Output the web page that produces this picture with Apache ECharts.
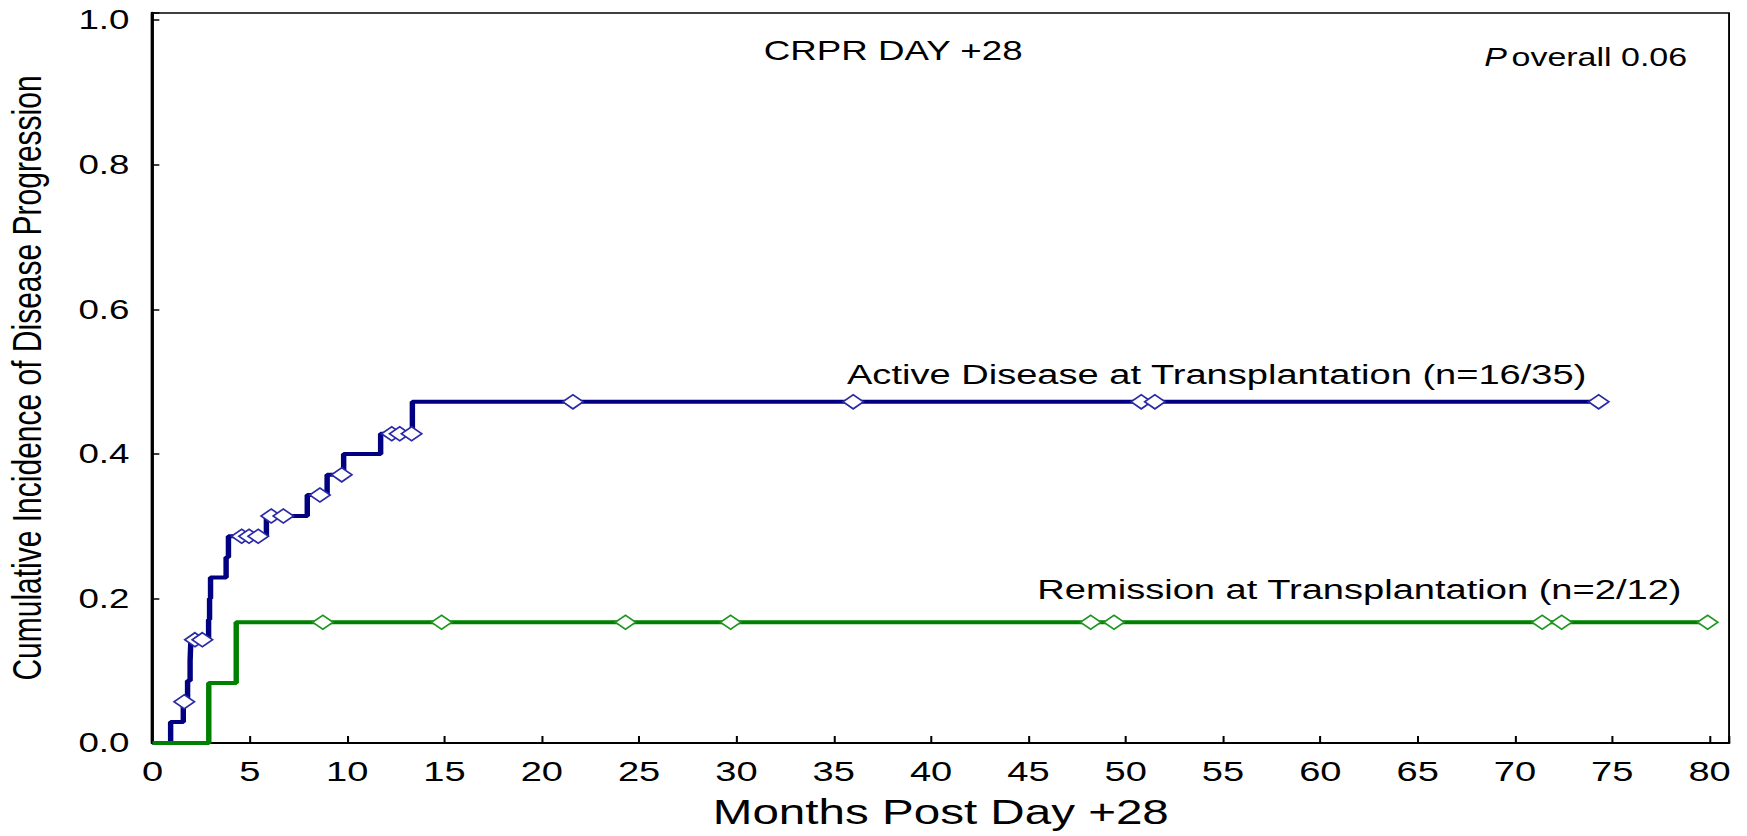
<!DOCTYPE html>
<html>
<head>
<meta charset="utf-8">
<script src="https://cdn.jsdelivr.net/npm/echarts@6/dist/echarts.min.js"></script>
<style>
html, body { margin: 0; padding: 0; background: #fff; overflow: hidden; }
#wrap { width: 1747px; height: 836px; overflow: hidden; background: #fff; }
#chart { width: 1285px; height: 836px; transform: scaleX(1.35953); transform-origin: 0 0; }
</style>
</head>
<body>
<div id="wrap"><div id="chart"></div></div>
<script>
// ---- data ----
const xTickLabels = ['0','5','10','15','20','25','30','35','40','45','50','55','60','65','70','75','80'];
const yTickLabels = ['0.0','0.2','0.4','0.6','0.8','1.0'];

// Active Disease at Transplantation (n=16/35): event times (months) and cumulative incidence after each event
const activeEventMonths = [0, 0.93, 1.58, 1.8, 1.93, 1.97, 2.88, 2.93, 2.98, 3.78, 3.9, 5.85, 7.95, 8.97, 9.82, 11.72, 13.35];
const activeEventLevels = [0, 0.029, 0.057, 0.086, 0.114, 0.143, 0.171, 0.2, 0.229, 0.257, 0.286, 0.314, 0.343, 0.371, 0.4, 0.428, 0.472];
const activeCensorMonths = [1.63, 2.18, 2.56, 4.58, 4.96, 5.43, 6.1, 6.72, 8.6, 9.72, 12.29, 12.7, 13.31, 21.6, 36.0, 50.8, 51.5, 74.3];

// Remission at Transplantation (n=2/12)
const remissionEventMonths = [0, 2.89, 4.3];
const remissionEventLevels = [0, 0.083, 0.167];
const remissionCensorMonths = [8.75, 14.85, 24.3, 29.7, 48.2, 49.4, 71.4, 72.4, 79.9];

const activeLabel = 'Active Disease at Transplantation (n=16/35)';
const remissionLabel = 'Remission at Transplantation (n=2/12)';
const panelTitle = 'CRPR DAY +28';
const pValueText = 'overall 0.06';

// ---- helpers ----
function levelAt(months, levels, t) {
  let lv = levels[0];
  for (let i = 0; i < months.length; i++) if (months[i] <= t) lv = levels[i];
  return lv;
}
function stepData(months, levels, endMonth) {
  const d = months.map((m, i) => [m, levels[i]]);
  d.push([endMonth, levels[levels.length - 1]]);
  return d;
}
function censorData(censors, months, levels) {
  return censors.map(t => [t, levelAt(months, levels, t)]);
}

const FONT = '"Liberation Sans", Arial, Helvetica, sans-serif';

const chart = echarts.init(document.getElementById('chart'), null, { renderer: 'svg' });

const option = {
  animation: false,
  backgroundColor: '#fff',
  grid: {
    left: 112.2, right: 13.2, top: 13, bottom: 93,
    show: true, borderColor: '#000', borderWidth: 1.4,
    containLabel: false, outerBoundsMode: 'none'
  },
  xAxis: {
    type: 'value', min: 0, max: 81, interval: 5,
    axisLine: { show: true, onZero: false, lineStyle: { color: '#000', width: 2 } },
    axisTick: { show: true, inside: true, length: 7, lineStyle: { color: '#000', width: 1.5 } },
    splitLine: { show: false },
    axisLabel: {
      color: '#000', fontFamily: FONT, fontSize: 28, margin: 14,
      formatter: v => { const s = String(Math.round(v * 1000) / 1000); return xTickLabels.includes(s) ? s : ''; }
    },
    name: 'Months Post Day +28', nameLocation: 'middle', nameGap: 51,
    nameTextStyle: { color: '#000', fontFamily: FONT, fontSize: 35 }
  },
  yAxis: {
    type: 'value', min: 0, max: 1.01, interval: 0.2,
    axisLine: { show: true, onZero: false, lineStyle: { color: '#000', width: 2.4 } },
    axisTick: { show: true, inside: true, length: 5, lineStyle: { color: '#000', width: 1.5 } },
    splitLine: { show: false },
    axisLabel: {
      color: '#000', fontFamily: FONT, fontSize: 27, margin: 17,
      formatter: v => { const s = v.toFixed(1); return (yTickLabels.includes(s) && Math.abs(v - parseFloat(s)) < 1e-6) ? s : ''; }
    },
    name: 'Cumulative Incidence of Disease Progression', nameLocation: 'middle', nameGap: 77,
    nameTextStyle: { color: '#000', fontFamily: FONT, fontSize: 30 }
  },
  series: [
    {
      name: activeLabel, type: 'line', step: 'end', symbol: 'none', z: 2,
      data: stepData(activeEventMonths, activeEventLevels, activeCensorMonths[activeCensorMonths.length - 1]),
      lineStyle: { color: '#000080', width: 4 }
    },
    {
      name: remissionLabel, type: 'line', step: 'end', symbol: 'none', z: 2,
      data: stepData(remissionEventMonths, remissionEventLevels, remissionCensorMonths[remissionCensorMonths.length - 1]),
      lineStyle: { color: '#008000', width: 4 }
    },
    {
      type: 'scatter', symbol: 'diamond', symbolSize: [15, 14], z: 3,
      data: censorData(activeCensorMonths, activeEventMonths, activeEventLevels),
      itemStyle: { color: '#fff', borderColor: '#2a2aa8', borderWidth: 1.5, opacity: 1 }
    },
    {
      type: 'scatter', symbol: 'diamond', symbolSize: [15, 14], z: 3,
      data: censorData(remissionCensorMonths, remissionEventMonths, remissionEventLevels),
      itemStyle: { color: '#fff', borderColor: '#1f961f', borderWidth: 1.5, opacity: 1 }
    }
  ],
  graphic: [
    { type: 'text', x: 657, y: 51, silent: true,
      style: { text: panelTitle, fill: '#000', font: '27px ' + FONT, textAlign: 'center', textVerticalAlign: 'middle' } },
    { type: 'text', x: 1241, y: 57, silent: true,
      style: { text: '{i|P} {n|' + pValueText + '}', fill: '#000', textAlign: 'right', textVerticalAlign: 'middle',
        rich: {
          i: { fontFamily: FONT, fontSize: 25, fontStyle: 'italic', fill: '#000' },
          n: { fontFamily: FONT, fontSize: 25, fill: '#000' }
        } } },
    { type: 'text', x: 623, y: 374, silent: true,
      style: { text: activeLabel, fill: '#000', font: '28px ' + FONT, textAlign: 'left', textVerticalAlign: 'middle' } },
    { type: 'text', x: 763, y: 589, silent: true,
      style: { text: remissionLabel, fill: '#000', font: '28px ' + FONT, textAlign: 'left', textVerticalAlign: 'middle' } }
  ]
};
chart.setOption(option);
</script>
</body>
</html>
